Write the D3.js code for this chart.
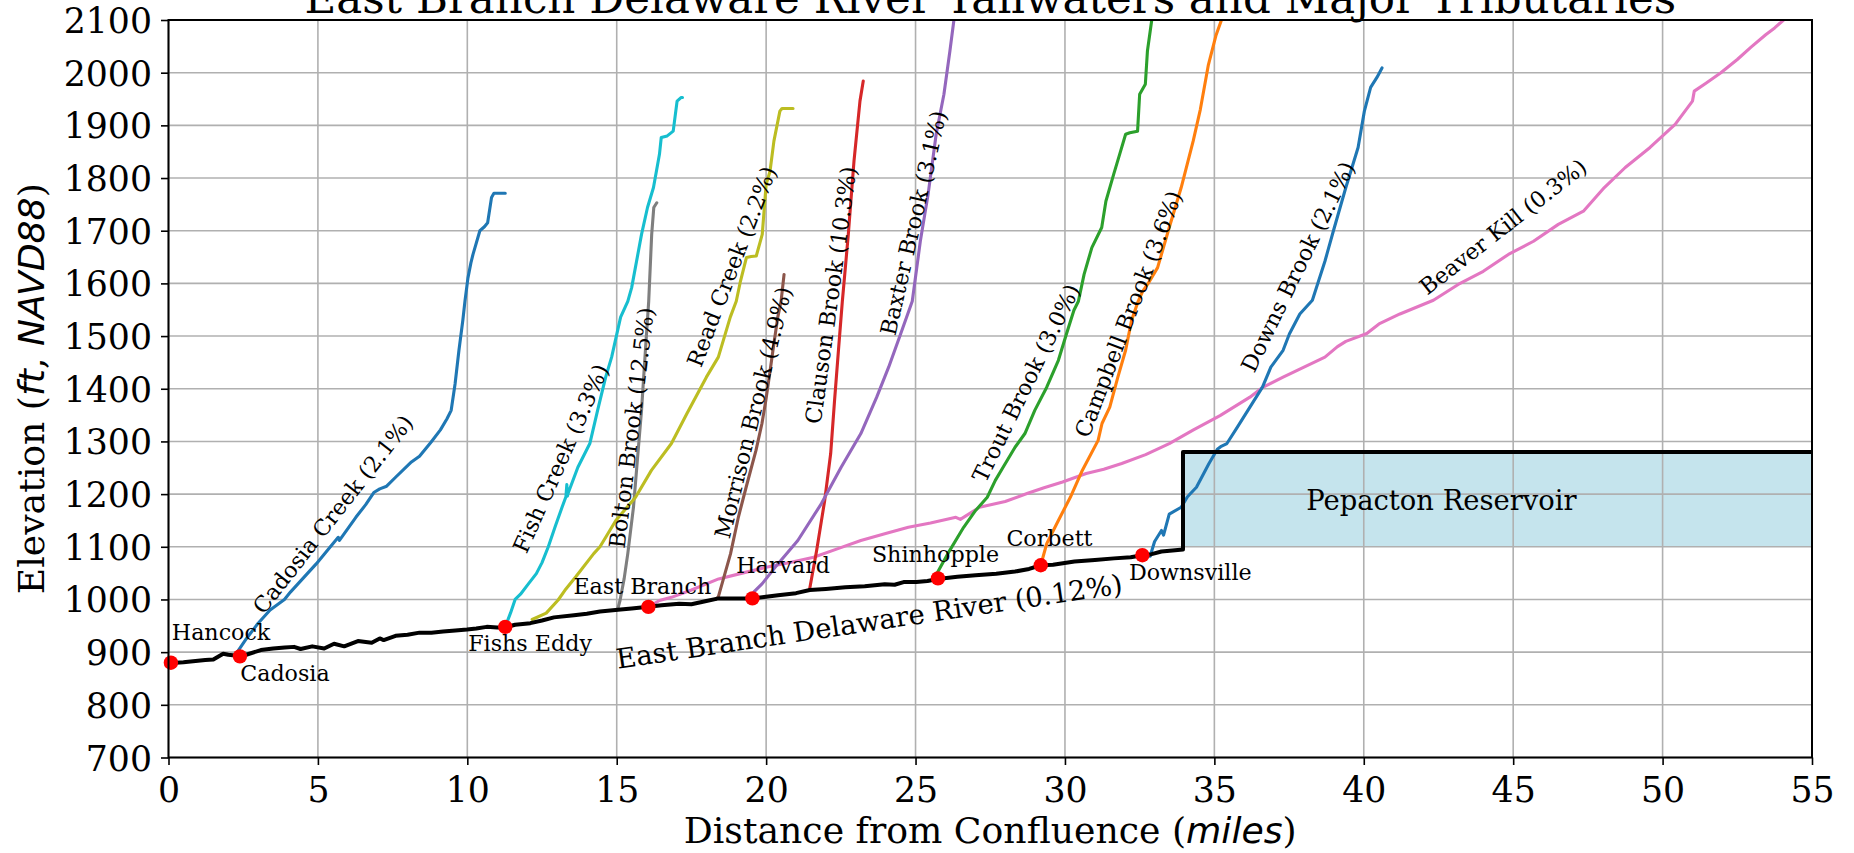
<!DOCTYPE html>
<html>
<head>
<meta charset="utf-8">
<script src="https://cdn.jsdelivr.net/npm/d3@7"></script>
<style>
  html, body { margin: 0; padding: 0; background: #fff; }
  svg { display: block; font-family: 'DejaVu Serif', serif; }
</style>
</head>
<body>
<svg id="chart" width="1854" height="853"></svg>
<script>
// ---- Data: [distance from confluence (miles), elevation (ft NAVD88)] ----
const xTickValues = [0, 5, 10, 15, 20, 25, 30, 35, 40, 45, 50, 55];
const yTickValues = [700, 800, 900, 1000, 1100, 1200, 1300, 1400, 1500, 1600, 1700, 1800, 1900, 2000, 2100];

const mainStem = [
  [0.0, 879], [0.5, 881], [1.23, 885], [1.5, 886], [1.83, 897], [2.0, 895], [2.3, 893], [2.6, 895],
  [3.09, 904], [3.5, 907], [3.89, 909], [4.2, 910], [4.42, 906], [4.81, 911], [5.21, 907], [5.54, 916],
  [5.88, 911], [6.34, 921], [6.8, 918], [7.07, 926], [7.2, 923], [7.6, 931], [8.0, 933], [8.4, 937],
  [8.8, 937], [9.19, 939], [9.6, 941], [9.99, 943], [10.3, 945], [10.65, 948], [11.0, 947], [11.27, 947],
  [11.6, 952], [12.11, 955], [12.5, 960], [12.9, 966], [13.57, 970], [14.0, 973], [14.44, 977], [15.13, 981],
  [15.5, 983], [16.06, 986], [16.5, 989], [17.09, 992], [17.5, 991], [18.0, 997], [18.41, 1002], [18.8, 1002],
  [19.54, 1002], [20.0, 1005], [20.4, 1008], [21.0, 1012], [21.46, 1018], [22.0, 1020], [22.65, 1023],
  [23.3, 1025], [23.97, 1029], [24.3, 1028], [24.6, 1033], [25.03, 1033], [25.4, 1035], [25.75, 1039],
  [26.4, 1043], [27.01, 1046], [27.7, 1049], [28.33, 1053], [28.8, 1058], [29.19, 1065], [29.6, 1066],
  [30.32, 1072], [31.0, 1075], [31.64, 1078], [32.2, 1080], [32.59, 1084], [32.9, 1086], [33.23, 1091],
  [33.6, 1093], [33.95, 1095], [33.95, 1280], [55, 1280]
];

const cadosiaCreek = [
  [2.3, 900], [2.6, 925], [3.0, 955], [3.4, 980], [3.88, 1000], [4.08, 1014], [4.5, 1040], [4.95, 1068],
  [5.3, 1092], [5.68, 1118], [5.72, 1112], [6.27, 1156], [6.6, 1180], [6.87, 1203], [7.07, 1210],
  [7.3, 1215], [7.6, 1232], [8.13, 1261], [8.4, 1272], [8.79, 1299], [9.1, 1322], [9.32, 1343],
  [9.46, 1359], [9.59, 1409], [9.72, 1473], [9.85, 1530], [9.92, 1566], [10.02, 1610], [10.12, 1639],
  [10.19, 1655], [10.42, 1700], [10.58, 1708], [10.68, 1715], [10.81, 1763], [10.89, 1771], [11.27, 1771]
];
const fishCreek = [
  [11.27, 948], [11.45, 975], [11.6, 1000], [11.78, 1010], [12.05, 1030], [12.31, 1049], [12.5, 1070],
  [12.71, 1100], [12.95, 1140], [13.17, 1175], [13.3, 1195], [13.33, 1218], [13.35, 1196], [13.37, 1201],
  [13.7, 1251], [14.1, 1296], [14.36, 1359], [14.63, 1422], [14.83, 1460], [15.13, 1536], [15.37, 1566],
  [15.5, 1592], [15.83, 1693], [16.03, 1744], [16.23, 1782], [16.43, 1845], [16.49, 1877], [16.69, 1880],
  [16.89, 1889], [17.02, 1946], [17.16, 1953], [17.2, 1953]
];
const boltonBrook = [
  [15.04, 983], [15.11, 998], [15.25, 1040], [15.37, 1087], [15.56, 1175], [15.69, 1264], [15.83, 1359],
  [15.96, 1473], [16.07, 1566], [16.17, 1693], [16.24, 1744], [16.34, 1753]
];
const readCreek = [
  [12.17, 962], [12.64, 974], [13.04, 999], [13.3, 1020], [13.63, 1043], [14.23, 1087], [14.44, 1100],
  [14.97, 1150], [15.63, 1194], [16.16, 1245], [16.83, 1296], [17.35, 1353], [18.0, 1422], [18.4, 1460],
  [18.8, 1536], [19.0, 1566], [19.14, 1604], [19.34, 1649], [19.5, 1651], [19.67, 1652], [19.87, 1693],
  [20.0, 1788], [20.13, 1813], [20.26, 1870], [20.46, 1927], [20.53, 1932], [20.9, 1932]
];
const morrisonBrook = [
  [18.3, 1000], [18.4, 1005], [18.81, 1087], [19.07, 1156], [19.33, 1213], [19.66, 1283], [19.86, 1334],
  [19.99, 1378], [20.12, 1429], [20.26, 1486], [20.39, 1536], [20.5, 1566], [20.6, 1617]
];
const clausonBrook = [
  [21.45, 1018], [21.69, 1093], [21.96, 1188], [22.16, 1277], [22.29, 1378], [22.42, 1473], [22.55, 1566],
  [22.75, 1693], [22.94, 1832], [23.14, 1946], [23.25, 1984]
];
const baxterBrook = [
  [19.54, 1002], [19.6, 1015], [19.87, 1030], [20.4, 1068], [21.06, 1112], [21.85, 1182], [22.51, 1251],
  [23.17, 1315], [23.7, 1384], [24.1, 1441], [24.5, 1504], [24.89, 1566], [25.16, 1680], [25.42, 1769],
  [25.69, 1883], [25.95, 1959], [26.15, 2041], [26.28, 2098], [26.3, 2110]
];
const troutBrook = [
  [25.7, 1048], [26.08, 1087], [26.61, 1137], [27.01, 1169], [27.4, 1194], [27.67, 1226], [27.93, 1251],
  [28.33, 1289], [28.66, 1315], [28.99, 1359], [29.39, 1403], [29.78, 1454], [30.05, 1504], [30.3, 1549],
  [30.45, 1566], [30.64, 1617], [30.9, 1668], [31.23, 1706], [31.37, 1756], [31.63, 1807], [31.83, 1845],
  [32.03, 1883], [32.17, 1886], [32.43, 1889], [32.5, 1959], [32.69, 1978], [32.76, 2041], [32.9, 2098],
  [32.92, 2110]
];
const campbellBrook = [
  [29.19, 1065], [29.39, 1106], [29.78, 1150], [30.18, 1194], [30.58, 1245], [31.11, 1302], [31.24, 1334],
  [31.5, 1365], [31.77, 1422], [32.03, 1473], [32.23, 1530], [32.45, 1566], [32.6, 1585], [32.83, 1604],
  [33.1, 1630], [33.49, 1706], [33.89, 1782], [34.29, 1870], [34.53, 1930], [34.8, 2015], [35.05, 2070],
  [35.3, 2110]
];
const downsBrook = [
  [32.6, 1084], [32.85, 1082], [33.0, 1110], [33.23, 1131], [33.3, 1122], [33.49, 1162], [33.89, 1175],
  [34.1, 1195], [34.4, 1213], [34.82, 1258], [35.1, 1285], [35.21, 1290], [35.42, 1296], [35.77, 1327],
  [36.19, 1365], [36.61, 1403], [36.89, 1441], [37.3, 1473], [37.51, 1504], [37.86, 1542], [38.28, 1568],
  [38.7, 1642], [38.98, 1699], [39.4, 1782], [39.81, 1858], [40.02, 1927], [40.23, 1972], [40.44, 1991],
  [40.61, 2009]
];
const beaverKill = [
  [16.06, 986], [16.43, 998], [16.83, 1004], [17.5, 1018], [18.41, 1039], [19.2, 1050], [20.0, 1061],
  [20.8, 1070], [21.59, 1080], [22.38, 1096], [23.17, 1112], [24.0, 1125], [24.76, 1137], [25.5, 1145],
  [26.35, 1156], [26.5, 1152], [27.14, 1175], [28.0, 1186], [28.73, 1201], [29.3, 1212], [29.92, 1223],
  [30.71, 1239], [31.3, 1247], [31.9, 1258], [32.7, 1275], [33.49, 1296], [34.3, 1322], [35.19, 1349],
  [36.19, 1384], [36.6, 1402], [37.3, 1422], [38.0, 1441], [38.7, 1460], [39.12, 1480], [39.4, 1490],
  [40.1, 1505], [40.51, 1523], [41.21, 1542], [42.33, 1568], [43.16, 1598], [44.0, 1623], [44.84, 1655],
  [45.68, 1680], [46.51, 1712], [47.35, 1737], [48.05, 1782], [48.75, 1820], [49.58, 1858], [50.42, 1902],
  [51.0, 1946], [51.06, 1965], [51.45, 1980], [51.95, 2000], [52.5, 2025], [52.95, 2048], [53.45, 2072],
  [53.75, 2085], [54.05, 2100], [55.0, 2130]
];

// Reservoir pool: extent along the valley and normal operating band
const reservoirMiles = [33.95, 55];
const reservoirElev = [1100, 1280];

// Towns along the main stem
const townNames = ["Hancock", "Cadosia", "Fishs Eddy", "East Branch", "Harvard", "Shinhopple", "Corbett", "Downsville"];
const townMiles = [0.08, 2.39, 11.27, 16.06, 19.54, 25.75, 29.19, 32.59];
const townElev = [880, 892, 948, 986, 1002, 1040, 1065, 1084];

const tributaryNames = [
  "Beaver Kill (0.3%)", "Cadosia Creek (2.1%)", "Fish Creek (3.3%)", "Bolton Brook (12.5%)",
  "Read Creek (2.2%)", "Morrison Brook (4.9%)", "Clauson Brook (10.3%)", "Baxter Brook (3.1%)",
  "Trout Brook (3.0%)", "Campbell Brook (3.6%)", "Downs Brook (2.1%)"
];
const tributarySeries = [
  beaverKill, cadosiaCreek, fishCreek, boltonBrook, readCreek, morrisonBrook,
  clausonBrook, baxterBrook, troutBrook, campbellBrook, downsBrook
];

// ---- Styling / layout ----
const tributaryColors = [
  "#e377c2", "#1f77b4", "#17becf", "#7f7f7f", "#bcbd22", "#8c564b",
  "#d62728", "#9467bd", "#2ca02c", "#ff7f0e", "#1f77b4"
];
// label centre (miles, ft) and angle in degrees, one per tributary
const tributaryLabelPos = [
  [44.66, 1708, 38], [5.5, 1162, 52], [13.12, 1268, 66], [15.49, 1326, 83],
  [18.84, 1632, 69], [19.56, 1355, 76], [22.16, 1578, 82], [24.92, 1715, 77],
  [28.69, 1411, 64], [32.12, 1542, 69], [37.79, 1632, 64]
];
// town label anchor (left, baseline) in data units
const townLabelPos = [
  [0.11, 924], [2.4, 846], [10.03, 902], [13.55, 1011],
  [19.0, 1050], [23.54, 1071], [28.04, 1101], [32.14, 1037]
];

const W = 1854, H = 853;
const plot = { left: 168.5, right: 1812, top: 20, bottom: 757.5 };

const svg = d3.select("#chart");
const x = d3.scaleLinear().domain([0, 55]).range([plot.left, plot.right]);
const y = d3.scaleLinear().domain([700, 2100]).range([plot.bottom, plot.top]);

svg.append("rect").attr("width", W).attr("height", H).attr("fill", "#fff");

svg.append("defs").append("clipPath").attr("id", "plot-clip")
  .append("rect")
  .attr("x", plot.left).attr("y", plot.top)
  .attr("width", plot.right - plot.left).attr("height", plot.bottom - plot.top);

// Reservoir pool (beneath the grid)
svg.append("rect")
  .attr("x", x(reservoirMiles[0]))
  .attr("y", y(reservoirElev[1]))
  .attr("width", x(reservoirMiles[1]) - x(reservoirMiles[0]))
  .attr("height", y(reservoirElev[0]) - y(reservoirElev[1]))
  .attr("fill", "#add8e6").attr("fill-opacity", 0.7);

// Grid
const grid = svg.append("g").attr("stroke", "#b0b0b0").attr("stroke-width", 1.6);
grid.selectAll("line.gx").data(xTickValues).join("line")
  .attr("x1", d => x(d)).attr("x2", d => x(d))
  .attr("y1", plot.top).attr("y2", plot.bottom);
grid.selectAll("line.gy").data(yTickValues).join("line")
  .attr("y1", d => y(d)).attr("y2", d => y(d))
  .attr("x1", plot.left).attr("x2", plot.right);

const line = d3.line().x(d => x(d[0])).y(d => y(d[1]));
const lines = svg.append("g").attr("clip-path", "url(#plot-clip)")
  .attr("fill", "none").attr("stroke-linejoin", "round").attr("stroke-linecap", "round");

lines.selectAll("path.trib").data(tributarySeries).join("path")
  .attr("class", "trib")
  .attr("d", line)
  .attr("stroke", (d, i) => tributaryColors[i])
  .attr("stroke-width", 3.1);

lines.append("path").datum(mainStem)
  .attr("d", line)
  .attr("stroke", "#000")
  .attr("stroke-width", 4);

// Town points
svg.append("g").selectAll("circle").data(townMiles).join("circle")
  .attr("cx", d => x(d))
  .attr("cy", (d, i) => y(townElev[i]))
  .attr("r", 7.2)
  .attr("fill", "#ff0000");

// Axes
const tickFont = 34.7;
const xAxis = d3.axisBottom(x).tickValues(xTickValues).tickSize(7.5).tickPadding(9).tickFormat(d3.format("d"));
const yAxis = d3.axisLeft(y).tickValues(yTickValues).tickSize(7.5).tickPadding(9).tickFormat(d3.format("d"));

const gx = svg.append("g").attr("transform", `translate(0,${plot.bottom})`).call(xAxis);
const gy = svg.append("g").attr("transform", `translate(${plot.left},0)`).call(yAxis);
[gx, gy].forEach(g => {
  g.select(".domain").remove();
  g.selectAll(".tick line").attr("stroke", "#000").attr("stroke-width", 1.6);
  g.selectAll(".tick text")
    .attr("font-family", "'DejaVu Serif', serif")
    .attr("font-size", tickFont)
    .attr("fill", "#000");
});
gx.selectAll(".tick text").attr("dy", null).attr("y", 44.2);
gy.selectAll(".tick text").attr("dy", "0.36em");

// Frame
svg.append("rect")
  .attr("x", plot.left).attr("y", plot.top)
  .attr("width", plot.right - plot.left).attr("height", plot.bottom - plot.top)
  .attr("fill", "none").attr("stroke", "#000").attr("stroke-width", 2);

// Axis titles
const labelFont = 36.2;
const xl = svg.append("text")
  .attr("x", (plot.left + plot.right) / 2).attr("y", 843)
  .attr("text-anchor", "middle").attr("font-size", labelFont);
xl.append("tspan").text("Distance from Confluence (");
xl.append("tspan").attr("font-family", "'DejaVu Sans', sans-serif").attr("font-style", "italic").text("miles");
xl.append("tspan").text(")");

const yl = svg.append("text")
  .attr("transform", `translate(43.5,${(plot.top + plot.bottom) / 2}) rotate(-90)`)
  .attr("text-anchor", "middle").attr("font-size", labelFont);
yl.append("tspan").text("Elevation (");
yl.append("tspan").attr("font-family", "'DejaVu Sans', sans-serif").attr("font-style", "italic").text("ft");
yl.append("tspan").text(", ");
yl.append("tspan").attr("font-family", "'DejaVu Sans', sans-serif").attr("font-style", "italic").text("NAVD88");
yl.append("tspan").text(")");

// Title
svg.append("text")
  .attr("x", (plot.left + plot.right) / 2).attr("y", 13)
  .attr("text-anchor", "middle").attr("font-size", 43.6)
  .text("East Branch Delaware River Tailwaters and Major Tributaries");

// Town labels
svg.append("g").selectAll("text").data(townNames).join("text")
  .attr("x", (d, i) => x(townLabelPos[i][0]))
  .attr("y", (d, i) => y(townLabelPos[i][1]))
  .attr("font-size", 22.2)
  .text(d => d);

// Tributary labels
svg.append("g").selectAll("text").data(tributaryNames).join("text")
  .attr("transform", (d, i) => {
    const p = tributaryLabelPos[i];
    return `translate(${x(p[0])},${y(p[1])}) rotate(${-p[2]})`;
  })
  .attr("text-anchor", "middle")
  .attr("dominant-baseline", "central")
  .attr("font-size", 22.2)
  .text(d => d);

// Main stem and reservoir labels
svg.append("text")
  .attr("transform", `translate(${x(23.45)},${y(958)}) rotate(-8.5)`)
  .attr("text-anchor", "middle").attr("dominant-baseline", "central")
  .attr("font-size", 27.4)
  .text("East Branch Delaware River (0.12%)");

svg.append("text")
  .attr("x", x(42.6)).attr("y", y(1170))
  .attr("text-anchor", "middle")
  .attr("font-size", 27.4)
  .text("Pepacton Reservoir");
</script>
</body>
</html>
